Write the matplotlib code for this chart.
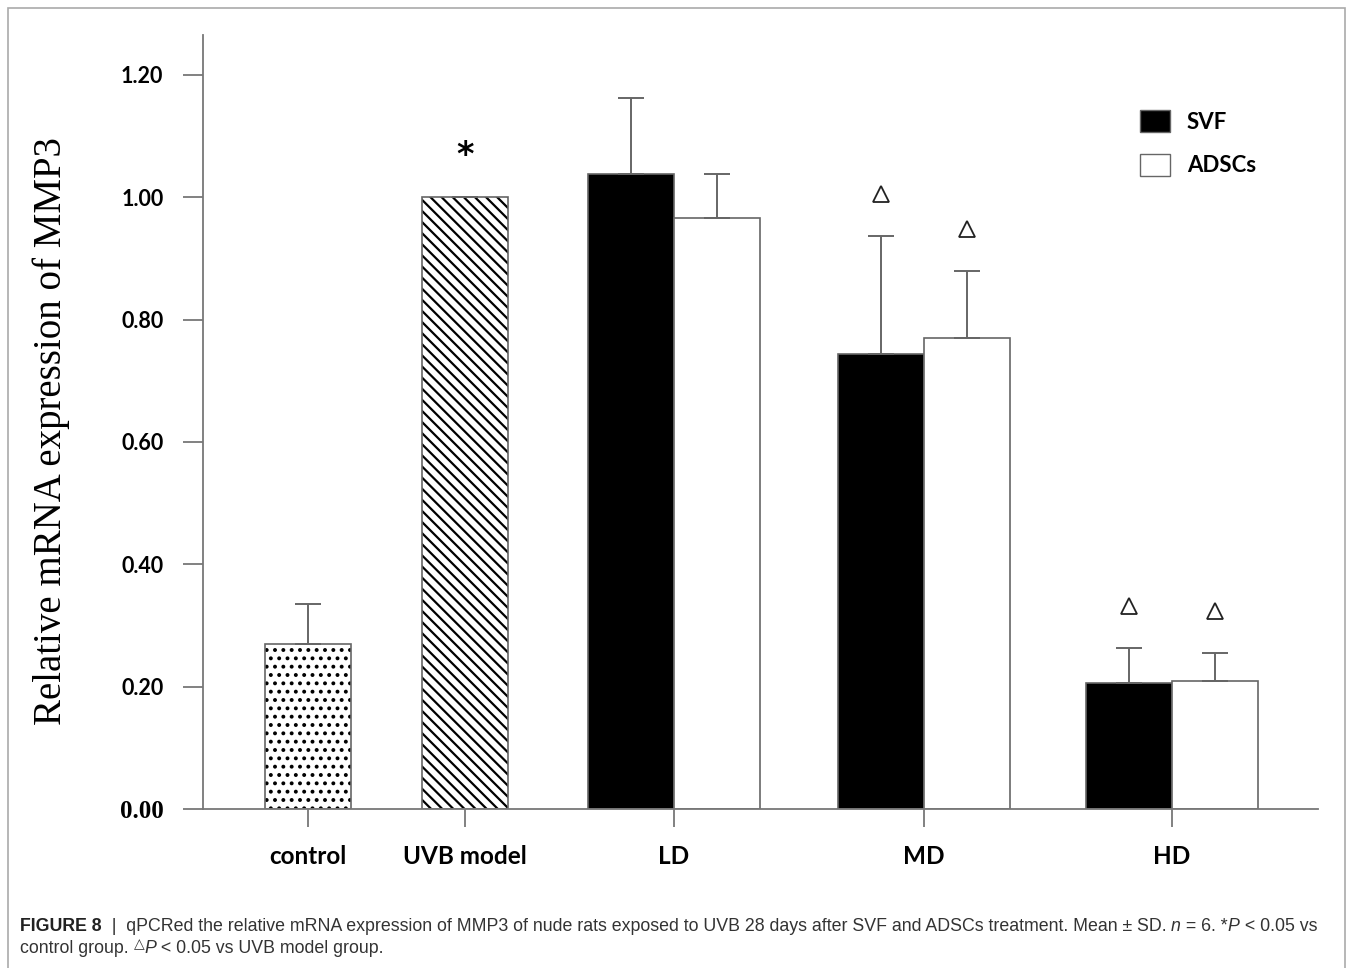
import matplotlib.pyplot as plt
import numpy as np
from matplotlib.patches import Patch, Rectangle

plt.rcParams['hatch.linewidth'] = 1.6

# single-bar groups
single_names = ["control", "UVB model"]
single_means = [0.270, 1.000]
single_sds = [0.065, 0.0]

# paired groups (SVF vs ADSCs)
dose_names = ["LD", "MD", "HD"]
svf_means = [1.038, 0.744, 0.206]
svf_sds = [0.124, 0.193, 0.057]
adsc_means = [0.966, 0.770, 0.209]
adsc_sds = [0.072, 0.110, 0.046]
svf_marked = [False, True, True]
adsc_marked = [False, True, True]

yticks = [0.0, 0.2, 0.4, 0.6, 0.8, 1.0, 1.2]

W, H = 1347, 968
fig = plt.figure(figsize=(W / 100, H / 100), dpi=100)
ax = fig.add_axes([203 / W, 1 - 809 / H, (1318 - 203) / W, (809 - 35) / H])

bw = 0.86
single_x = np.array([3.08, 4.65])
dose_x = np.array([6.74, 9.24, 11.72])
edge = "#666666"
err_kw = dict(ecolor=edge, elinewidth=1.4, capsize=9.5, capthick=1.4)

# hatched bars: black hatch underneath, grey outline on top
ax.bar(single_x[0], single_means[0], bw, color="white", edgecolor="black",
       linewidth=0, hatch="..")
ax.bar(single_x[1], single_means[1], bw, color="white", edgecolor="black",
       linewidth=0, hatch="\\\\\\")
ax.bar(single_x, single_means, bw, fill=False, edgecolor=edge, linewidth=1.2,
       yerr=[[0, 0], single_sds], error_kw=err_kw)
ax.text(single_x[1], single_means[1] + 0.068, "*", ha="center", va="center",
        fontsize=24, fontweight="bold", family="DejaVu Sans")

ax.bar(dose_x - bw / 2, svf_means, bw, color="black", edgecolor=edge,
       linewidth=1.2, yerr=[np.zeros(3), svf_sds], error_kw=err_kw)
ax.bar(dose_x + bw / 2, adsc_means, bw, color="white", edgecolor=edge,
       linewidth=1.2, yerr=[np.zeros(3), adsc_sds], error_kw=err_kw)

# significance triangles above the error bars
for xs, m, s, flag in [(dose_x - bw / 2, svf_means, svf_sds, svf_marked),
                       (dose_x + bw / 2, adsc_means, adsc_sds, adsc_marked)]:
    for xi, mi, si, f in zip(xs, m, s, flag):
        if f:
            ax.plot(xi, mi + si + 0.068, marker="^", ms=11, mfc="white",
                    mec="#222222", mew=1.3)

ax.set_xlim(2.03, 13.18)
ax.set_ylim(0, 1.265)
ax.set_xticks(list(single_x) + list(dose_x))
ax.set_xticklabels(single_names + dose_names, fontsize=17.5, fontweight="bold",
                   family="Lato")
ax.set_yticks(yticks)
ax.set_yticklabels([f"{v:.2f}" for v in yticks], fontsize=15.5, fontweight="bold",
                   family="Lato")
ax.get_yticklabels()[0].set_family("Liberation Serif")
ax.get_yticklabels()[0].set_fontsize(18)

for side in ["top", "right"]:
    ax.spines[side].set_visible(False)
for side in ["left", "bottom"]:
    ax.spines[side].set_color("#777777")
    ax.spines[side].set_linewidth(1.3)
ax.tick_params(axis="y", length=14.5, width=1.3, color="#777777", pad=14)
ax.tick_params(axis="x", length=13, width=1.3, color="#777777", pad=13)

ax.set_ylabel("Relative mRNA expression of MMP3", family="Liberation Serif",
              fontsize=28)
ax.yaxis.set_label_coords(-0.119, 0.488)

handles = [Patch(facecolor="black", edgecolor=edge), Patch(facecolor="white", edgecolor=edge)]
ax.legend(handles, ["SVF", "ADSCs"], loc="upper left",
          bbox_to_anchor=(1120 / W, 1 - 90 / H), bbox_transform=fig.transFigure,
          frameon=False, prop=dict(family="Lato", weight="bold", size=16),
          handlelength=1.35, handleheight=1.15, handletextpad=0.75, labelspacing=0.95)

# outer frame
fig.patches.append(Rectangle((8 / W, -0.02), (1345 - 8) / W, 1.02 - 8 / H,
                             transform=fig.transFigure, fill=False,
                             edgecolor="#aaaaaa", linewidth=1.2))

# caption, written piece by piece so italics and the raised triangle sit inline
cap_fam = ["Liberation Sans", "DejaVu Sans"]
renderer = fig.canvas.get_renderer()


def caption_line(x, y, parts):
    for s, kw in parts:
        style = dict(fontsize=12.8, family=cap_fam, color="#333333")
        style.update(kw)
        dy = style.pop("dy", 0)
        t = fig.text(x / W, 1 - (y - dy) / H, s, ha="left", va="baseline", **style)
        x += t.get_window_extent(renderer=renderer).width


caption_line(20, 931, [
    ("FIGURE 8", dict(fontweight="bold", color="#222222")),
    ("  |  qPCRed the relative mRNA expression of MMP3 of nude rats exposed to UVB 28 days "
     "after SVF and ADSCs treatment. Mean \u00b1 SD. ", {}),
    ("n", dict(style="italic")),
    (" = 6. *", {}),
    ("P", dict(style="italic")),
    (" < 0.05 vs", {}),
])
caption_line(20, 953, [
    ("control group. ", {}),
    ("\u25b3", dict(fontsize=10, family=["DejaVu Sans"], dy=5)),
    ("P", dict(style="italic")),
    (" < 0.05 vs UVB model group.", {}),
])

fig.savefig("out.png", dpi=100)
